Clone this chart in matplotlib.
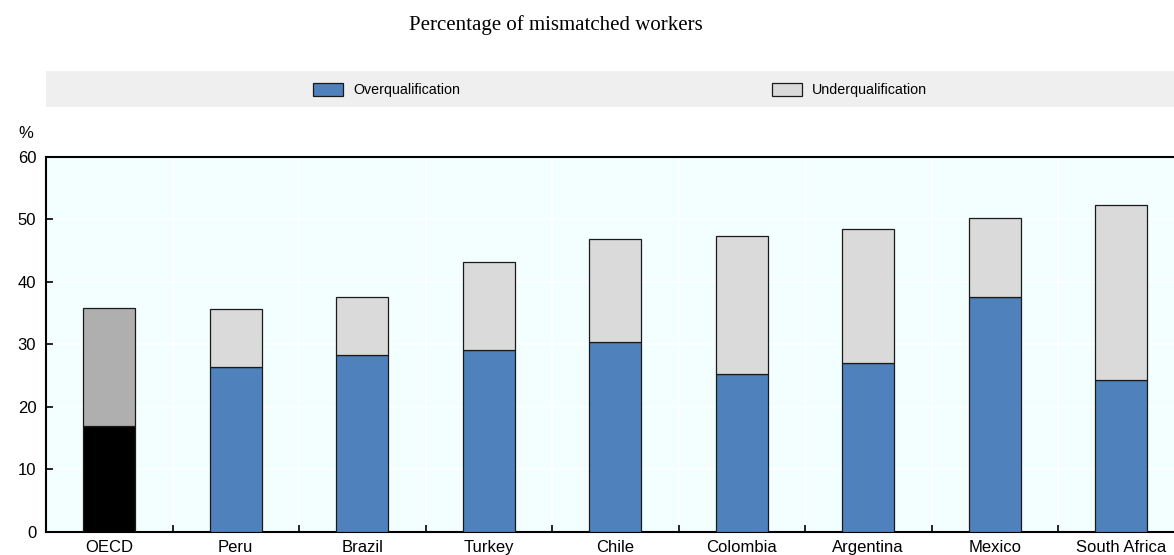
import matplotlib
matplotlib.use("Agg")
import matplotlib.pyplot as plt
from matplotlib.patches import Rectangle, Patch
import numpy as np

countries = ["OECD", "Peru", "Brazil", "Turkey", "Chile", "Colombia",
             "Argentina", "Mexico", "South Africa"]
overqualification = [16.9, 26.3, 28.3, 29.1, 30.3, 25.3, 27.0, 37.6, 24.3]
total_mismatch = [35.75, 35.6, 37.6, 43.1, 46.85, 47.4, 48.4, 50.3, 52.3]
underqualification = [t - o for t, o in zip(total_mismatch, overqualification)]

BLUE = "#4F81BD"
LIGHT = "#DADADA"
OECD_DARK = "#000000"
OECD_LIGHT = "#AFAFAF"

plt.rcParams["font.family"] = ["Liberation Sans", "DejaVu Sans"]
TICK_FS = 12
LEG_FS = 10.3

W, H = 1174, 555
fig = plt.figure(figsize=(W / 100, H / 100), dpi=100)

# plot area (extends slightly past the right edge of the canvas)
left, right, top, bottom = 46, 1184.5, 157, 531.5
ax = fig.add_axes([left / W, 1 - bottom / H, (right - left) / W, (bottom - top) / H])
ax.set_facecolor("#F3FFFF")

x = np.arange(len(countries))
over_colors = [OECD_DARK] + [BLUE] * (len(countries) - 1)
under_colors = [OECD_LIGHT] + [LIGHT] * (len(countries) - 1)
bw = 0.41
ax.bar(x, overqualification, width=bw, color=over_colors,
       edgecolor="#1a1a1a", linewidth=0.9, zorder=3)
ax.bar(x, underqualification, bottom=overqualification, width=bw,
       color=under_colors, edgecolor="#1a1a1a", linewidth=0.9, zorder=3)

ax.set_xlim(-0.5, len(countries) - 0.5)
ax.set_ylim(0, 60)
ax.set_yticks(np.arange(0, 61, 10))
ax.set_xticks(x)
ax.set_xticklabels(countries)
ax.set_xticks(np.arange(0.5, len(countries) - 0.5, 1), minor=True)

ax.grid(True, axis="y", color="white", linewidth=1.2, zorder=0)
ax.grid(True, axis="x", which="minor", color="white", linewidth=1.2, zorder=0)
ax.set_axisbelow(True)

ax.tick_params(axis="x", which="major", length=0, labelsize=TICK_FS, pad=6)
ax.tick_params(axis="x", which="minor", direction="in", length=5, width=1.2)
ax.tick_params(axis="y", direction="in", length=5, width=1.2, labelsize=TICK_FS, pad=7)

for side in ["left", "bottom", "top"]:
    ax.spines[side].set_linewidth(1.5)
    ax.spines[side].set_color("black")
ax.spines["right"].set_visible(False)

fig.text(26 / W, 1 - 134 / H, "%", ha="center", va="center", fontsize=TICK_FS)

# title
fig.text(556 / W, 1 - 25 / H, "Percentage of mismatched workers",
         ha="center", va="center", fontsize=15,
         family=["Liberation Serif", "DejaVu Serif"])

# legend band
fig.patches.append(Rectangle((left / W, 1 - 107 / H), (W - left) / W, 36 / H,
                             transform=fig.transFigure, facecolor="#EFEFEF",
                             edgecolor="none", zorder=0))
em = LEG_FS * 100 / 72
handles = [Patch(facecolor=BLUE, edgecolor="#1a1a1a", linewidth=0.9, label="Overqualification"),
           Patch(facecolor=LIGHT, edgecolor="#1a1a1a", linewidth=0.9, label="Underqualification")]
for h, xpos in zip(handles, [313, 772]):
    fig.legend(handles=[h], loc="center left", bbox_to_anchor=(xpos / W, 1 - 90 / H),
               frameon=False, fontsize=LEG_FS, handlelength=30 / em,
               handleheight=15 / em, handletextpad=10 / em,
               borderpad=0, borderaxespad=0)

fig.savefig("out.png", dpi=100)
